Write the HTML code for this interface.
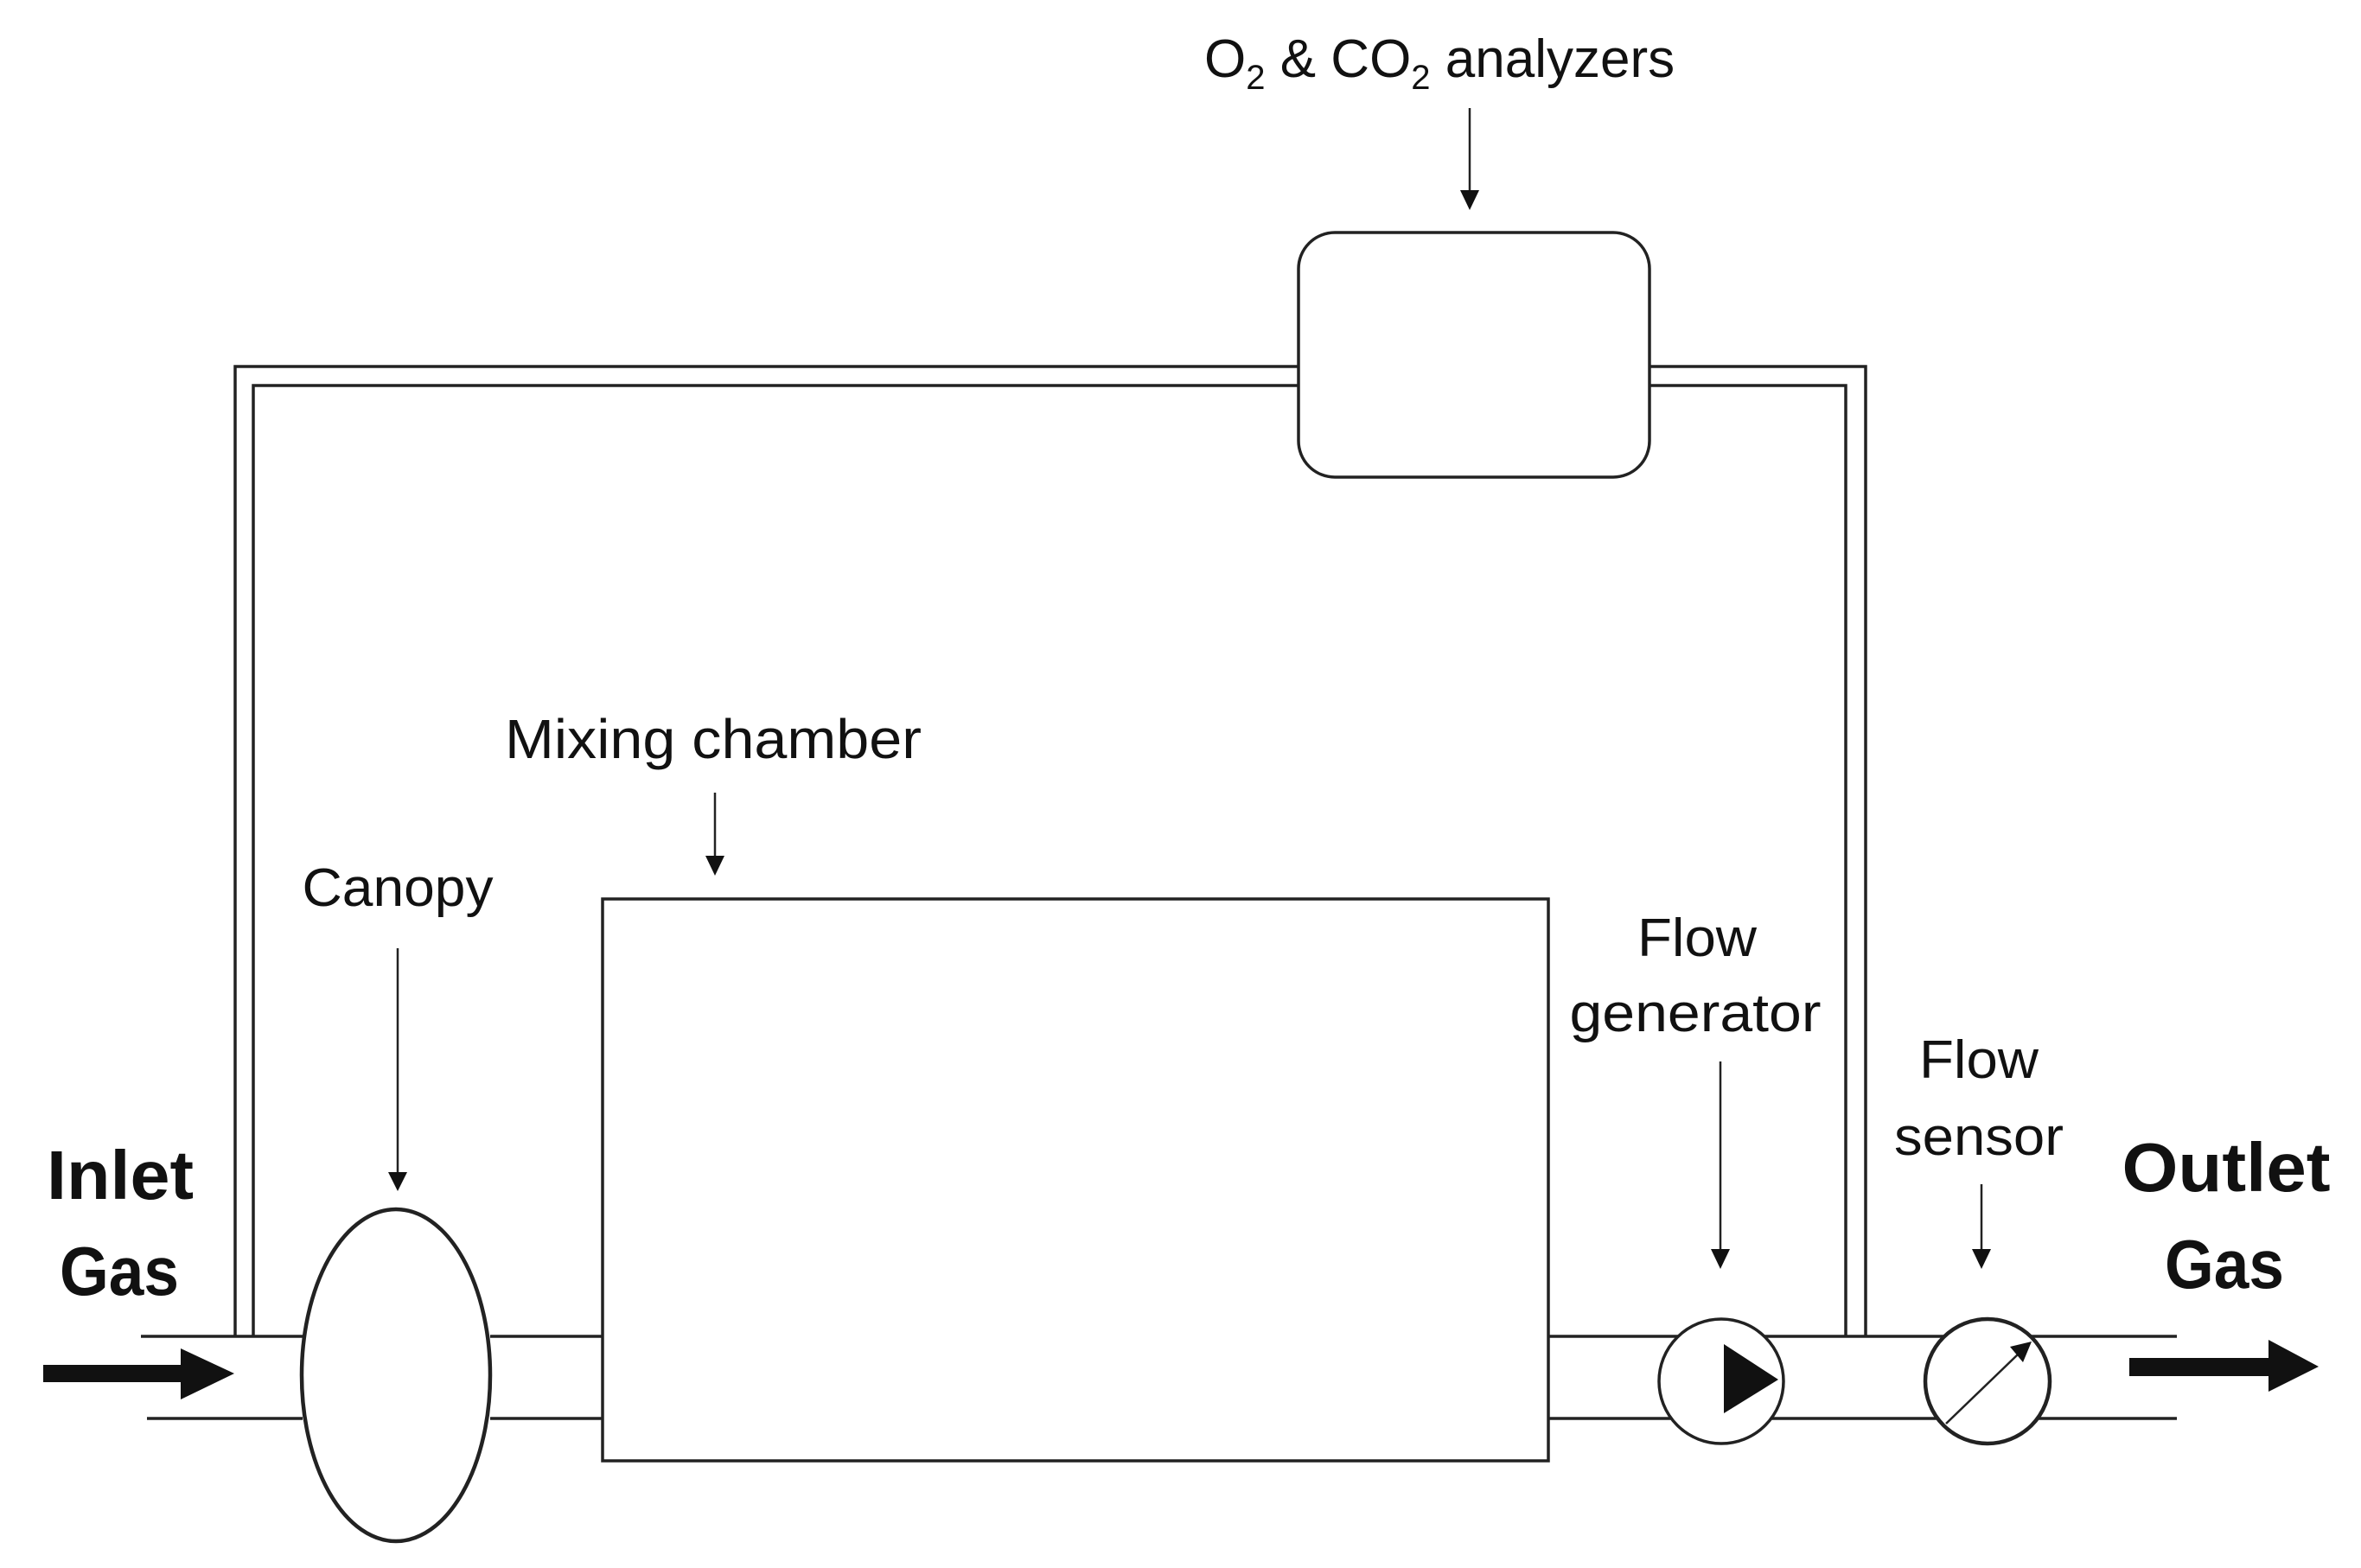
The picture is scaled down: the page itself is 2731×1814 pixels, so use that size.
<!DOCTYPE html>
<html><head><meta charset="utf-8"><style>
html,body{margin:0;padding:0;background:#fff;}
svg{display:block;}
text{font-family:"Liberation Sans",sans-serif;fill:#111;}
</style></head><body>
<svg width="2731" height="1814" viewBox="0 0 2731 1814" xmlns="http://www.w3.org/2000/svg">
<defs>
<marker id="ah" markerWidth="10" markerHeight="10" refX="9" refY="5" orient="auto" markerUnits="userSpaceOnUse" viewBox="0 0 10 10">
</marker>
</defs>
<g stroke="#222" stroke-width="3.5" fill="none">
<!-- pipes -->
<line x1="163" y1="1546" x2="350" y2="1546"/>
<line x1="170" y1="1641" x2="350" y2="1641"/>
<line x1="567" y1="1546" x2="697" y2="1546"/>
<line x1="567" y1="1641" x2="697" y2="1641"/>
<line x1="1791" y1="1546" x2="2518" y2="1546"/>
<line x1="1791" y1="1641" x2="2518" y2="1641"/>
<!-- double loop left -->
<polyline points="272,1546 272,424 1502,424"/>
<polyline points="293,1546 293,446 1502,446"/>
<!-- right -->
<polyline points="1908,424 2158,424 2158,1546"/>
<polyline points="1908,446 2135,446 2135,1546"/>
<!-- analyzer -->
<rect x="1502" y="269" width="406" height="283" rx="42" ry="42" fill="#fff"/>
<!-- chamber -->
<rect x="697" y="1040" width="1094" height="650" fill="#fff"/>
<!-- canopy -->
<ellipse cx="458" cy="1591" rx="109" ry="192" stroke-width="4.5" fill="#fff"/>
<!-- pump -->
<circle cx="1991" cy="1598" r="72" fill="#fff"/>
<!-- sensor -->
<circle cx="2299" cy="1598" r="72" stroke-width="4.5" fill="#fff"/>
<line x1="2251" y1="1647" x2="2335" y2="1566" stroke-width="2.5"/>
<!-- label arrows -->
<line x1="460" y1="1097" x2="460" y2="1360" stroke-width="2.5"/>
<line x1="827" y1="917" x2="827" y2="995" stroke-width="2.5"/>
<line x1="1700" y1="125" x2="1700" y2="225" stroke-width="2.5"/>
<line x1="1990" y1="1228" x2="1990" y2="1450" stroke-width="2.5"/>
<line x1="2292" y1="1370" x2="2292" y2="1450" stroke-width="2.5"/>
</g>
<g fill="#111">
<polygon points="1994,1555 2057,1596 1994,1635"/>
<polygon points="2350,1552 2325,1558 2340,1576"/>
<polygon points="449,1356 471,1356 460,1378"/>
<polygon points="816,990 838,990 827,1013"/>
<polygon points="1689,220 1711,220 1700,243"/>
<polygon points="1979,1445 2001,1445 1990,1468"/>
<polygon points="2281,1445 2303,1445 2292,1468"/>
<!-- big arrows -->
<rect x="50" y="1579" width="165" height="20"/>
<polygon points="209,1560 271,1589 209,1619"/>
<rect x="2463" y="1571" width="170" height="21"/>
<polygon points="2624,1550 2682,1581 2624,1610"/>
</g>
<text x="139" y="1387" font-size="80" font-weight="bold" text-anchor="middle" textLength="170" lengthAdjust="spacingAndGlyphs">Inlet</text>
<text x="138" y="1498" font-size="80" font-weight="bold" text-anchor="middle" textLength="138" lengthAdjust="spacingAndGlyphs">Gas</text>
<text x="2575" y="1378" font-size="80" font-weight="bold" text-anchor="middle" textLength="241" lengthAdjust="spacingAndGlyphs">Outlet</text>
<text x="2573" y="1490" font-size="80" font-weight="bold" text-anchor="middle" textLength="138" lengthAdjust="spacingAndGlyphs">Gas</text>
<text x="460" y="1048" font-size="62" text-anchor="middle" textLength="221" lengthAdjust="spacingAndGlyphs">Canopy</text>
<text x="825" y="877" font-size="64" text-anchor="middle" textLength="482" lengthAdjust="spacingAndGlyphs">Mixing chamber</text>
<text x="1963" y="1106" font-size="62" text-anchor="middle" textLength="138" lengthAdjust="spacingAndGlyphs">Flow</text>
<text x="1961" y="1193" font-size="62" text-anchor="middle" textLength="291" lengthAdjust="spacingAndGlyphs">generator</text>
<text x="2289" y="1247" font-size="62" text-anchor="middle" textLength="138" lengthAdjust="spacingAndGlyphs">Flow</text>
<text x="2289" y="1336" font-size="62" text-anchor="middle" textLength="196" lengthAdjust="spacingAndGlyphs">sensor</text>
<text x="1393" y="89" font-size="62">O<tspan font-size="40" dy="14">2</tspan><tspan dy="-14"> &amp; CO</tspan><tspan font-size="40" dy="14">2</tspan><tspan dy="-14"> analyzers</tspan></text>
</svg>
</body></html>
